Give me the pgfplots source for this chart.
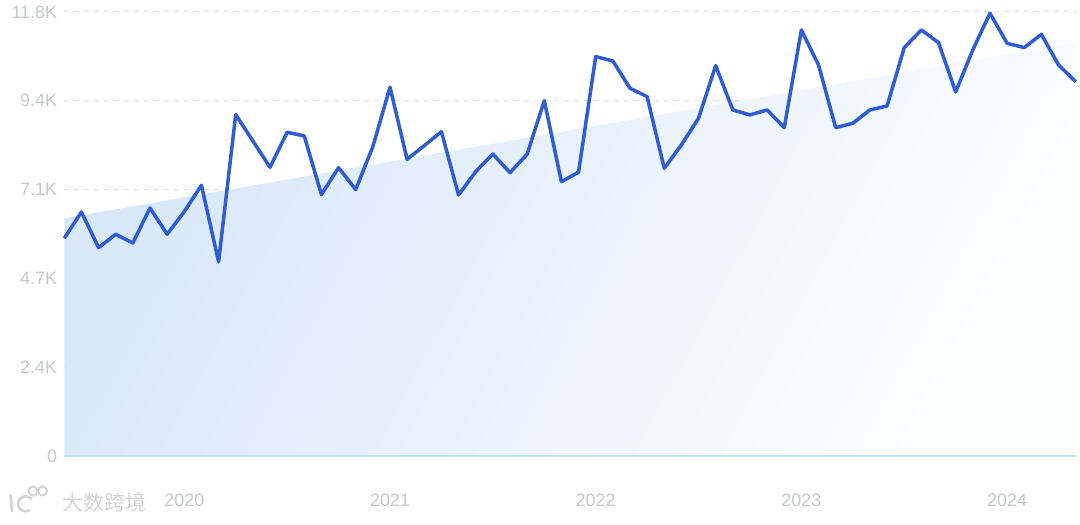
\documentclass[border=0pt]{standalone}
\usepackage{pgfplots}
\pgfplotsset{compat=1.18}
\usepackage{pgfplotstable}
\usepackage{fontspec}
\setmainfont{Liberation Sans}
\newfontfamily\cjk{Noto Sans CJK SC}

\definecolor{lineblue}{RGB}{47,93,212}
\definecolor{gridgray}{RGB}{222,226,232}
\definecolor{ticklab}{RGB}{196,199,204}
\definecolor{fillA}{RGB}{216,232,250}
\definecolor{fillB}{RGB}{252,253,255}
\definecolor{baseblue}{RGB}{196,224,238}
\definecolor{wmark}{RGB}{212,212,212}

% monthly values, Jun 2019 .. May 2024
\pgfplotstableread{
m v
0 5786
1 6486
2 5537
3 5893
4 5661
5 6592
6 5893
7 6494
8 7195
9 5165
10 9072
11 8373
12 7673
13 8603
14 8505
15 6946
16 7664
17 7080
18 8221
19 9800
20 7886
21 8248
22 8620
23 6937
24 7557
25 8027
26 7531
27 8019
28 9444
29 7291
30 7541
31 10614
32 10499
33 9774
34 9550
35 7647
36 8267
37 8976
38 10374
39 9197
40 9064
41 9197
42 8726
43 11323
44 10393
45 8726
46 8843
47 9197
48 9303
49 10853
50 11323
51 10986
52 9675
53 10792
54 11767
55 10969
56 10853
57 11207
58 10393
59 9949
}\visits

\begin{document}
\begin{tikzpicture}[x=1bp,y=1bp]
\begin{axis}[
  at={(0,0)}, anchor=south west,
  scale only axis, width=1011.4bp, height=444bp,
  xmin=0, xmax=59, ymin=0, ymax=11800,
  axis line style={draw=none},
  major tick length=0pt,
  ymajorgrids,
  grid style={gridgray, line width=1bp, dash pattern=on 5bp off 5bp},
  ytick={0,2360,4720,7080,9440,11800},
  yticklabels={0,2.4K,4.7K,7.1K,9.4K,11.8K},
  xtick={7,19,31,43,55},
  xticklabels={2020,2021,2022,2023,2024},
  tick label style={font=\fontsize{18}{18}\selectfont, text=ticklab},
  yticklabel style={anchor=east, xshift=-6bp, inner sep=1bp},
  xticklabel style={anchor=center, yshift=-44bp},
  clip=false,
]
\addplot[draw=none, left color=fillA, right color=fillB, shading angle=62]
  coordinates {(0,6318) (59,10990)} \closedcycle;
\addplot[baseblue, line width=1.2bp] coordinates {(0,0) (59,0)};
\addplot[lineblue, line width=3.5bp, line join=round, no markers] table[x=m, y=v] {\visits};
\end{axis}
% watermark
\draw[wmark, line width=2.5bp, line cap=round] (-53.8bp,-39bp) -- (-52.3bp,-55bp);
\draw[wmark, line width=2.5bp, line cap=round] (-33bp,-43bp) arc[start angle=40, end angle=300, radius=7.5bp];
\draw[wmark, line width=2bp] (-31.3bp,-35bp) circle[radius=4.5bp] (-21.8bp,-35bp) circle[radius=4.5bp];
\node[text=wmark, font=\cjk\fontsize{21}{21}\selectfont] at (40bp,-47bp) {大数跨境};
\pgfresetboundingbox
\path[use as bounding box] (-64.3bp,-69bp) rectangle (1015.7bp,456bp);
\end{tikzpicture}
\end{document}
